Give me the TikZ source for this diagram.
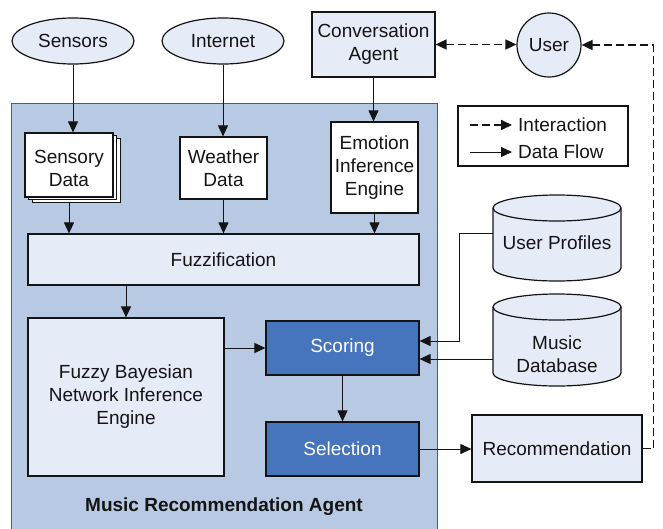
\documentclass[tikz,border=0pt]{standalone}
\usepackage{fontspec}
\setmainfont{Liberation Sans}
\usetikzlibrary{shapes.geometric,arrows.meta,shadows}
\definecolor{agentbg}{RGB}{184,201,227}
\definecolor{lightbox}{RGB}{229,236,247}
\definecolor{darkbox}{RGB}{70,116,189}
\definecolor{edge}{RGB}{20,20,20}
\begin{document}
\begin{tikzpicture}[x=1pt,y=-1pt,
  font=\fontsize{19}{23}\selectfont,
  box/.style={draw=edge, line width=1.2pt, inner sep=0pt, align=center, anchor=center, text=edge},
  lightb/.style={box, fill=lightbox},
  whiteb/.style={box, fill=white},
  darkb/.style={box, fill=darkbox, text=white},
  ellb/.style={box, ellipse, fill=lightbox},
  flow/.style={draw=edge, line width=1pt, -{Triangle[length=11pt,width=10pt]}},
  inter/.style={draw=edge, line width=1.7pt, dash pattern=on 8pt off 4pt, -{Triangle[length=11pt,width=10pt]}},
  cylb/.style={draw=edge, line width=1.2pt, fill=lightbox}
]
\clip (0,0) rectangle (663,528);
\fill[white] (0,0) rectangle (663,528);

% container
\node[fill=agentbg, draw=edge!70, line width=0.9pt, minimum width=426pt, minimum height=430pt, inner sep=0pt] (agent) at (224,318) {};
\node[text=edge, font=\bfseries\fontsize{19}{23}\selectfont] (title) at (224,507) {Music Recommendation Agent};

% top sources
\node[ellb, minimum width=122pt, minimum height=46pt] (sensors) at (73,41) {Sensors};
\node[ellb, minimum width=122pt, minimum height=46pt] (internet) at (223,41) {Internet};
\node[lightb, minimum width=123pt, minimum height=65pt] (conv) at (373.5,44.5) {Conversation\\Agent};
\node[ellb, circle, minimum size=64pt] (user) at (549,45) {User};

% data boxes
\node[whiteb, minimum width=88pt, minimum height=64pt,
      double copy shadow={shadow xshift=3.5pt, shadow yshift=-2.5pt, draw=edge, line width=1pt, fill=white}] (sensory) at (69,165) {};
\node[text=edge, align=center, inner sep=0pt] (sensoryt) at (69,168) {Sensory\\Data};
\node[whiteb, minimum width=87pt, minimum height=62pt] (weather) at (223.5,168) {Weather\\Data};
\node[whiteb, minimum width=87pt, minimum height=91pt] (emotion) at (374.5,167.5) {Emotion\\Inference\\Engine};

\node[lightb, minimum width=391pt, minimum height=51pt] (fuzz) at (223.5,259.5) {Fuzzification};
\node[lightb, minimum width=196pt, minimum height=158pt] (fbn) at (126,397) {Fuzzy Bayesian\\Network Inference\\Engine};
\node[darkb, minimum width=153pt, minimum height=54pt] (scoring) at (342.5,348) {Scoring};
\node[darkb, minimum width=153pt, minimum height=54pt] (selection) at (342.5,449) {Selection};
\node[lightb, minimum width=170pt, minimum height=67pt] (rec) at (557,448.5) {Recommendation};

% legend
\node[whiteb, minimum width=170pt, minimum height=60pt] (legend) at (543,136) {};
\coordinate (li1) at (470,125);
\coordinate (li2) at (512,125);
\coordinate (ld1) at (470,152);
\coordinate (ld2) at (512,152);
\draw[inter] (li1) -- (li2);
\draw[flow] (ld1) -- (ld2);
\node[anchor=west, text=edge, inner sep=0pt] (lti) at (518,125) {Interaction};
\node[anchor=west, text=edge, inner sep=0pt] (ltd) at (518,152) {Data Flow};

% cylinders
\draw[cylb] (493,208) -- (493,268) arc[start angle=180,end angle=360,x radius=64pt,y radius=13pt]
  -- (621,208) arc[start angle=0,end angle=180,x radius=64pt,y radius=13pt] -- cycle;
\draw[draw=edge, line width=1.2pt] (493,208) arc[start angle=180,end angle=360,x radius=64pt,y radius=13pt];
\node[minimum width=128pt, minimum height=86pt, inner sep=0pt] (uprof) at (557,238) {};
\node[text=edge, inner sep=0pt] (uproft) at (557,243) {User Profiles};

\draw[cylb] (493,307) -- (493,373) arc[start angle=180,end angle=360,x radius=64pt,y radius=13pt]
  -- (621,307) arc[start angle=0,end angle=180,x radius=64pt,y radius=13pt] -- cycle;
\draw[draw=edge, line width=1.2pt] (493,307) arc[start angle=180,end angle=360,x radius=64pt,y radius=13pt];
\node[minimum width=128pt, minimum height=92pt, inner sep=0pt] (mdb) at (557,340) {};
\node[text=edge, inner sep=0pt, align=center] (mdbt) at (557,354) {Music\\Database};

% data flow connectors
\draw[flow] (sensors.south) -- (sensors.south |- sensory.north);
\draw[flow] (internet.south) -- (internet.south |- weather.north);
\draw[flow] (conv.south) -- (conv.south |- emotion.north);
\draw[flow] ([yshift=-5pt]sensory.south) -- (sensory.south |- fuzz.north);
\draw[flow] (weather.south) -- (weather.south |- fuzz.north);
\draw[flow] (emotion.south) -- (emotion.south |- fuzz.north);
\draw[flow] (fbn.north |- fuzz.south) -- (fbn.north);
\draw[flow] (scoring.west -| fbn.east) -- (scoring.west);
\draw[flow] ([yshift=5pt]uprof.west) -- ++(-33,0) |- ([yshift=7pt]scoring.east);
\draw[flow] ([yshift=-11pt]scoring.east -| mdb.west) -- ([yshift=-11pt]scoring.east);
\draw[flow] (scoring.south) -- (selection.north);
\draw[flow] (selection.east) -- (selection.east -| rec.west);

% interaction connectors
\draw[inter, {Triangle[length=11pt,width=10pt]}-{Triangle[length=11pt,width=10pt]}] (conv.east) -- (conv.east -| user.west);
\draw[inter] (rec.east) -- ++(11,0) |- (user.east);
\end{tikzpicture}
\end{document}
